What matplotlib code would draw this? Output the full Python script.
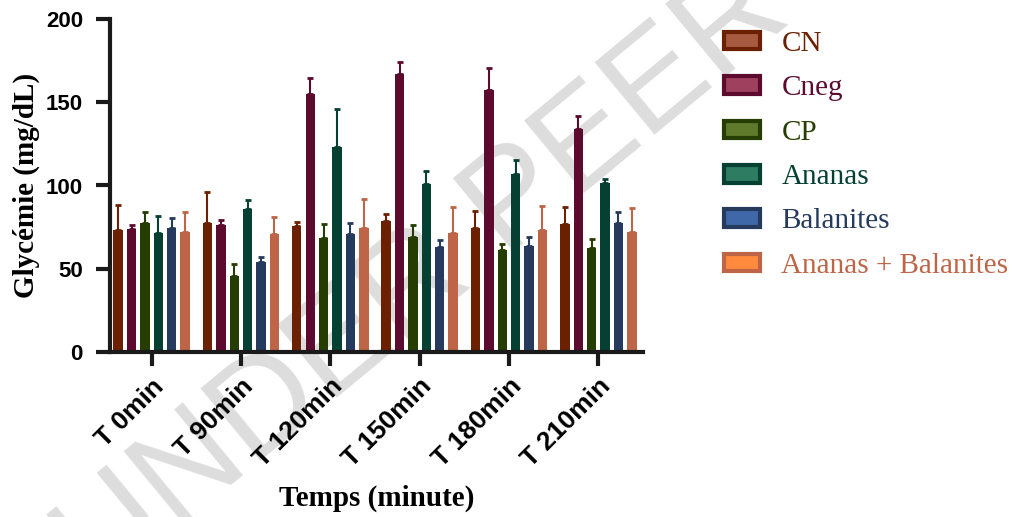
import numpy as np
import matplotlib
matplotlib.use("Agg")
import matplotlib.pyplot as plt
from matplotlib.patches import Patch

# data
times = ["T 0min", "T 90min", "T 120min", "T 150min", "T 180min", "T 210min"]
groups = ["CN", "Cneg", "CP", "Ananas", "Balanites", "Ananas + Balanites"]

cn = [73.3, 77.3, 75.7, 78.7, 74.7, 76.7]
cn_err = [15.0, 19.0, 2.4, 4.0, 10.2, 10.4]
cneg = [74.0, 76.1, 155.0, 166.8, 157.4, 133.9]
cneg_err = [2.3, 3.0, 9.7, 7.6, 13.0, 8.0]
cp = [77.3, 45.6, 68.5, 68.9, 61.3, 62.6]
cp_err = [6.6, 7.4, 8.6, 7.4, 3.7, 5.4]
ananas = [71.3, 86.1, 123.3, 100.7, 106.9, 101.7]
ananas_err = [10.4, 5.0, 22.8, 8.2, 8.6, 2.0]
balanites = [74.3, 54.2, 70.9, 63.2, 63.8, 77.3]
balanites_err = [6.4, 3.0, 6.8, 4.2, 5.4, 6.6]
mix = [72.3, 70.9, 74.7, 71.7, 73.1, 71.9]
mix_err = [12.0, 10.4, 17.0, 15.2, 14.6, 14.4]

means = [cn, cneg, cp, ananas, balanites, mix]
errs = [cn_err, cneg_err, cp_err, ananas_err, balanites_err, mix_err]

dark = ["#6B2000", "#5C0A2E", "#253D00", "#054033", "#253A5C", "#BD6546"]
light = ["#A65A3F", "#A0405F", "#5E7A2A", "#2E7D63", "#3F68A8", "#FF8A3D"]

W, H = 1011, 517
fig = plt.figure(figsize=(W / 100, H / 100), dpi=100)
ax = fig.add_axes([110 / W, 1 - 352 / H, (643 - 110) / W, (352 - 19) / H])
ax.patch.set_alpha(0)

# watermark behind the chart
fig.text(648 / W, 1 - 95 / H, "UNDER PEER REVIEW", fontsize=99,
         family="Liberation Sans", color="#DDDDDD", rotation=39.6,
         rotation_mode="anchor", ha="center", va="center", zorder=-5)

x = np.arange(len(times))
step = 0.15
width = 0.105
for i in range(len(groups)):
    pos = x + (i - 2.5) * step
    ax.bar(pos, means[i], width, color=dark[i], zorder=2)
    ax.errorbar(pos, means[i], yerr=[np.zeros(len(times)), errs[i]], fmt="none",
                ecolor=dark[i], elinewidth=1.5, capsize=2.5, capthick=2, zorder=1)

ax.set_xlim(-0.466, 5.5)
ax.set_ylim(0, 200)
ax.set_yticks([0, 50, 100, 150, 200])
ax.set_xticks(x)
ax.set_xticklabels(times, rotation=45, ha="right", rotation_mode="anchor")
for lab in ax.get_yticklabels():
    lab.set_family("Liberation Sans")
    lab.set_fontweight("bold")
    lab.set_fontsize(16)
for lab in ax.get_xticklabels():
    lab.set_family("Liberation Sans")
    lab.set_fontweight("bold")
    lab.set_fontsize(19)

for s in ["top", "right"]:
    ax.spines[s].set_visible(False)
for s in ["left", "bottom"]:
    ax.spines[s].set_linewidth(3)
    ax.spines[s].set_color("#1a1a1a")
ax.tick_params(axis="both", width=3, length=10, color="#1a1a1a")
ax.tick_params(axis="y", pad=9.5)
ax.tick_params(axis="x", pad=6)

ax.set_ylabel("Glycémie (mg/dL)", family="Liberation Serif", fontweight="bold",
              fontsize=21, labelpad=4)
ax.set_xlabel("Temps (minute)", family="Liberation Serif", fontweight="bold",
              fontsize=21, labelpad=9)

handles = [Patch(facecolor=light[i], edgecolor=dark[i], linewidth=3) for i in range(len(groups))]
fig.legend(handles, groups, loc="upper left", bbox_to_anchor=(724 / W, 1 - 31 / H),
           frameon=False, labelcolor=dark, prop={"family": "Liberation Serif", "size": 21},
           handlelength=1.25, handleheight=0.55, labelspacing=0.63, handletextpad=0.72,
           borderpad=0, borderaxespad=0)

fig.savefig("out.png", dpi=100)
